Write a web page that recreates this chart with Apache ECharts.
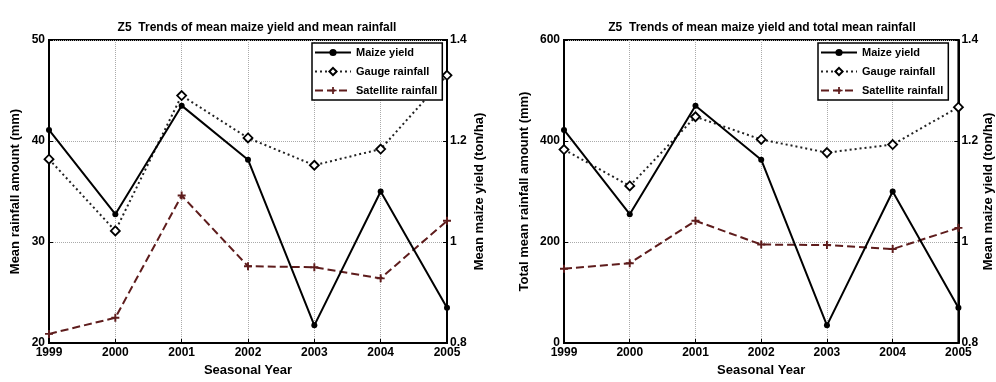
<!DOCTYPE html>
<html>
<head>
<meta charset="utf-8">
<script src="https://cdn.jsdelivr.net/npm/echarts@6/dist/echarts.min.js"></script>
<style>
html,body{margin:0;padding:0;background:#fff;}
#c{width:996px;height:382px;}
</style>
</head>
<body>
<div id="c"></div>
<script>
// ---- data ----
const years = ['1999','2000','2001','2002','2003','2004','2005'];
const maizeYield = [1.222, 1.055, 1.27, 1.163, 0.835, 1.10, 0.87];     // ton/ha (right axis)
const gaugeMean = [38.2, 31.1, 44.5, 40.3, 37.6, 39.2, 46.5];          // mm (left chart)
const satMean = [20.9, 22.5, 34.6, 27.6, 27.5, 26.4, 32.1];            // mm (left chart)
const gaugeTotal = [383, 311, 448, 403, 377, 393, 467];                // mm (right chart)
const satTotal = [147, 158, 242, 195, 194, 186, 228];                  // mm (right chart)
const seriesNames = ['Maize yield', 'Gauge rainfall', 'Satellite rainfall'];
const titles = ['Z5  Trends of mean maize yield and mean rainfall', 'Z5  Trends of mean maize yield and total mean rainfall'];
const leftNames = ['Mean rainfall amount (mm)', 'Total mean rainfall amount (mm)'];
const rightName = 'Mean maize yield (ton/ha)';
const xName = 'Seasonal Year';

const FONT = 'Liberation Sans, Arial, sans-serif';
const SAT_COLOR = '#5e1c1c';
const PLUS = 'path://M-1.2,-5 L1.2,-5 L1.2,-1.2 L5,-1.2 L5,1.2 L1.2,1.2 L1.2,5 L-1.2,5 L-1.2,1.2 L-5,1.2 L-5,-1.2 L-1.2,-1.2 Z';

const chart = echarts.init(document.getElementById('c'), null, {renderer: 'canvas'});

const grids = [
  {left: 49, top: 40, width: 398, height: 309},
  {left: 564, top: 40, width: 395, height: 307}
];

function xAxis(gi) {
  return {
    type: 'category', gridIndex: gi, data: years, boundaryGap: false,
    name: xName, nameLocation: 'middle', nameGap: 21,
    nameTextStyle: {fontFamily: FONT, fontWeight: 'bold', fontSize: 13, color: '#000'},
    axisLine: {lineStyle: {color: '#000', width: 2}},
    axisTick: {show: true, inside: true, length: 4, lineStyle: {color: '#000'}},
    axisLabel: {fontFamily: FONT, fontWeight: 'bold', fontSize: 12, color: '#000', margin: 4, interval: 0},
    splitLine: {show: true, lineStyle: {type: 'dotted', color: '#aaa', width: 1}}
  };
}
function yLeft(gi, min, max, interval, name, gap) {
  return {
    type: 'value', gridIndex: gi, position: 'left', min: min, max: max, interval: interval,
    name: name, nameLocation: 'middle', nameGap: gap,
    nameTextStyle: {fontFamily: FONT, fontWeight: 'bold', fontSize: 13, color: '#000'},
    axisLine: {show: true, lineStyle: {color: '#000', width: 2}},
    axisTick: {show: true, inside: true, length: 4, lineStyle: {color: '#000'}},
    axisLabel: {fontFamily: FONT, fontWeight: 'bold', fontSize: 12, color: '#000', margin: 4},
    splitLine: {show: true, lineStyle: {type: 'dotted', color: '#aaa', width: 1}}
  };
}
function yRight(gi, gap) {
  return {
    type: 'value', gridIndex: gi, position: 'right', min: 0.8, max: 1.4, interval: 0.2,
    name: rightName, nameLocation: 'middle', nameGap: gap, nameRotate: 90,
    nameTextStyle: {fontFamily: FONT, fontWeight: 'bold', fontSize: 13, color: '#000'},
    axisLine: {show: true, lineStyle: {color: '#000', width: 2}},
    axisTick: {show: true, inside: true, length: 4, lineStyle: {color: '#000'}},
    axisLabel: {fontFamily: FONT, fontWeight: 'bold', fontSize: 12, color: '#000', margin: 3,
      formatter: v => String(Math.round(v * 10) / 10)},
    splitLine: {show: false}
  };
}

function seriesFor(gi, gauge, sat) {
  const xi = gi, yl = gi * 2, yr = gi * 2 + 1;
  return [
    {name: seriesNames[0], type: 'line', xAxisIndex: xi, yAxisIndex: yr, data: maizeYield,
     symbol: 'circle', symbolSize: 6, showSymbol: true,
     lineStyle: {color: '#000', width: 2, type: 'solid'}, itemStyle: {color: '#000'}, z: 4},
    {name: seriesNames[1], type: 'line', xAxisIndex: xi, yAxisIndex: yl, data: gauge,
     symbol: 'diamond', symbolSize: 9,
     lineStyle: {color: '#222', width: 2, type: [2, 3]}, itemStyle: {color: '#fff', borderColor: '#000', borderWidth: 1.8}, z: 3},
    {name: seriesNames[2], type: 'line', xAxisIndex: xi, yAxisIndex: yl, data: sat,
     symbol: PLUS, symbolSize: 8,
     lineStyle: {color: SAT_COLOR, width: 2, type: [8, 4]}, itemStyle: {color: SAT_COLOR}, z: 3}
  ];
}

function legendAt(left, top) {
  return {
    orient: 'vertical', left: left, top: top, itemWidth: 36, itemHeight: 9, itemGap: 8,
    padding: [4, 5, 4, 2], backgroundColor: '#fff', borderColor: '#000', borderWidth: 1.5,
    borderRadius: 0, selectedMode: false, data: seriesNames,
    textStyle: {fontFamily: FONT, fontWeight: 'bold', fontSize: 11, color: '#000'}
  };
}

const option = {
  animation: false,
  backgroundColor: '#fff',
  title: [
    {text: titles[0], left: 252, top: 17, textAlign: 'center',
     textStyle: {fontFamily: FONT, fontWeight: 'bold', fontSize: 12, color: '#000'}},
    {text: titles[1], left: 757, top: 17, textAlign: 'center',
     textStyle: {fontFamily: FONT, fontWeight: 'bold', fontSize: 12, color: '#000'}}
  ],
  legend: [legendAt(312, 43), legendAt(818, 43)],
  grid: grids.map(g => Object.assign({show: true, borderColor: '#000', borderWidth: 2, backgroundColor: 'transparent'}, g)),
  xAxis: [xAxis(0), xAxis(1)],
  yAxis: [
    yLeft(0, 20, 50, 10, leftNames[0], 27), yRight(0, 26),
    yLeft(1, 0, 600, 200, leftNames[1], 33), yRight(1, 15)
  ],
  series: [].concat(seriesFor(0, gaugeMean, satMean), seriesFor(1, gaugeTotal, satTotal))
};
chart.setOption(option);
</script>
</body>
</html>
